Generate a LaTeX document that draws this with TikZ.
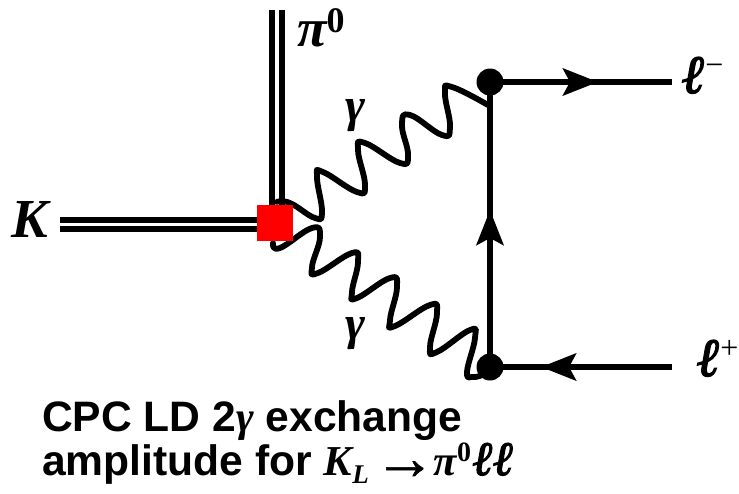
\documentclass[tikz,border=0pt]{standalone}
\usepackage{fontspec}
\setmainfont{Liberation Sans}
\newfontfamily\tms{Liberation Serif}
\newfontfamily\ellf[FakeBold=2.5]{Liberation Serif}
\newfontfamily\arrf[FakeBold=1]{Liberation Serif}
\usetikzlibrary{arrows.meta}
\newcommand{\fs}[1]{\fontsize{#1}{#1}\selectfont}
\tikzset{
  x=1pt,y=-1pt,
  meson/.style={line width=5.3pt,line cap=butt},
  fermion/.style={line width=6pt,line cap=butt},
  fermhead/.style={fermion,-{Stealth[length=35pt,width=27pt,inset=7pt]}},
  photon/.style={line width=5.8pt,line cap=round,line join=round},
  sym/.style={inner sep=0pt,font=\tms\bfseries\itshape\fs{#1}},
  sym/.default=50,
  caption/.style={inner sep=0pt,anchor=base west,font=\bfseries\fs{42.6}},
  vertexdot/.style={circle,fill=black,minimum size=27pt,inner sep=0pt},
  vertexsq/.style={rectangle,fill=red,minimum size=36pt,inner sep=0pt}
}
\begin{document}
\begin{tikzpicture}
\useasboundingbox (0,0) rectangle (739,493);
% free ends
\coordinate (k1) at (60,220); \coordinate (k2) at (60,229);
\coordinate (k1e) at (262,220); \coordinate (k2e) at (262,229);
\coordinate (p1) at (272,10); \coordinate (p2) at (282,10);
\coordinate (p1e) at (272,210); \coordinate (p2e) at (282,210);
\coordinate (lm) at (672,82); \coordinate (lp) at (672,367);
\coordinate (amid) at (490,210);
\coordinate (atop) at (598,82);
\coordinate (abot) at (541,367);
\coordinate (va) at (490,82); \coordinate (vb) at (490,367);
% meson lines
\draw[meson] (k1) -- (k1e);
\draw[meson] (k2) -- (k2e);
\draw[meson] (p1) -- (p1e);
\draw[meson] (p2) -- (p2e);
% photons
\draw[photon] plot[smooth,tension=.8] coordinates {(277,202) (290,203) (315,218) (322,212) (317,177) (323,172) (357,192) (365,185) (358,150) (365,143) (400,163) (408,155) (402,125) (410,115) (442,135) (450,127) (445,93) (452,87) (488,105)};
\draw[photon] plot[smooth,tension=.8] coordinates {(273,243) (280,248) (312,228) (320,237) (312,267) (318,273) (352,253) (358,262) (352,292) (357,298) (390,278) (397,287) (390,320) (395,326) (430,305) (437,313) (430,347) (437,352) (470,330) (475,338) (467,372) (473,377) (482,375)};
% fermion lines
\draw[fermion] (vb) -- (va);
\draw[fermion] (va) -- (lm);
\draw[fermion] (lp) -- (vb);
\draw[fermhead] (vb) -- (amid);
\draw[fermhead] (va) -- (atop);
\draw[fermhead] (lp) -- (abot);
% vertices
\node[vertexsq] (sq) at (275,223) {};
\node[vertexdot] (dt) at (va) {};
\node[vertexdot] (db) at (vb) {};
% labels
\node[sym=55] (K) at (30,219) {K};
\node[sym=54,anchor=base west] (pi) at (297,46) {π\raisebox{14pt}{\tms\bfseries\upshape\fs{36}0}};
\node[sym=48] (g1) at (355,116) {γ};
\node[sym=48] (g2) at (355,334) {γ};
\node[sym=54,anchor=base west] (lm1) at (682,93) {{\ellf\itshape ℓ}\raisebox{18pt}{\tms\mdseries\upshape\fs{32}−}};
\node[sym=54,anchor=base west] (lp1) at (697,376) {{\ellf\itshape ℓ}\raisebox{18pt}{\tms\mdseries\upshape\fs{32}+}};
\node[caption] (c1) at (42,431) {CPC LD 2{\tms\itshape γ} exchange};
\node[caption] (c2) at (42,475) {amplitude for {\tms\itshape K\raisebox{-8pt}{\fs{27}L}}\hspace{5pt}\smash{\raisebox{-4pt}{\arrf\fs{62}→}}\hspace{-2pt}{\tms\itshape π\raisebox{14pt}{\upshape\fs{28}0}\hspace{2pt}{\ellf\fs{48}ℓℓ}}};
\end{tikzpicture}
\end{document}
